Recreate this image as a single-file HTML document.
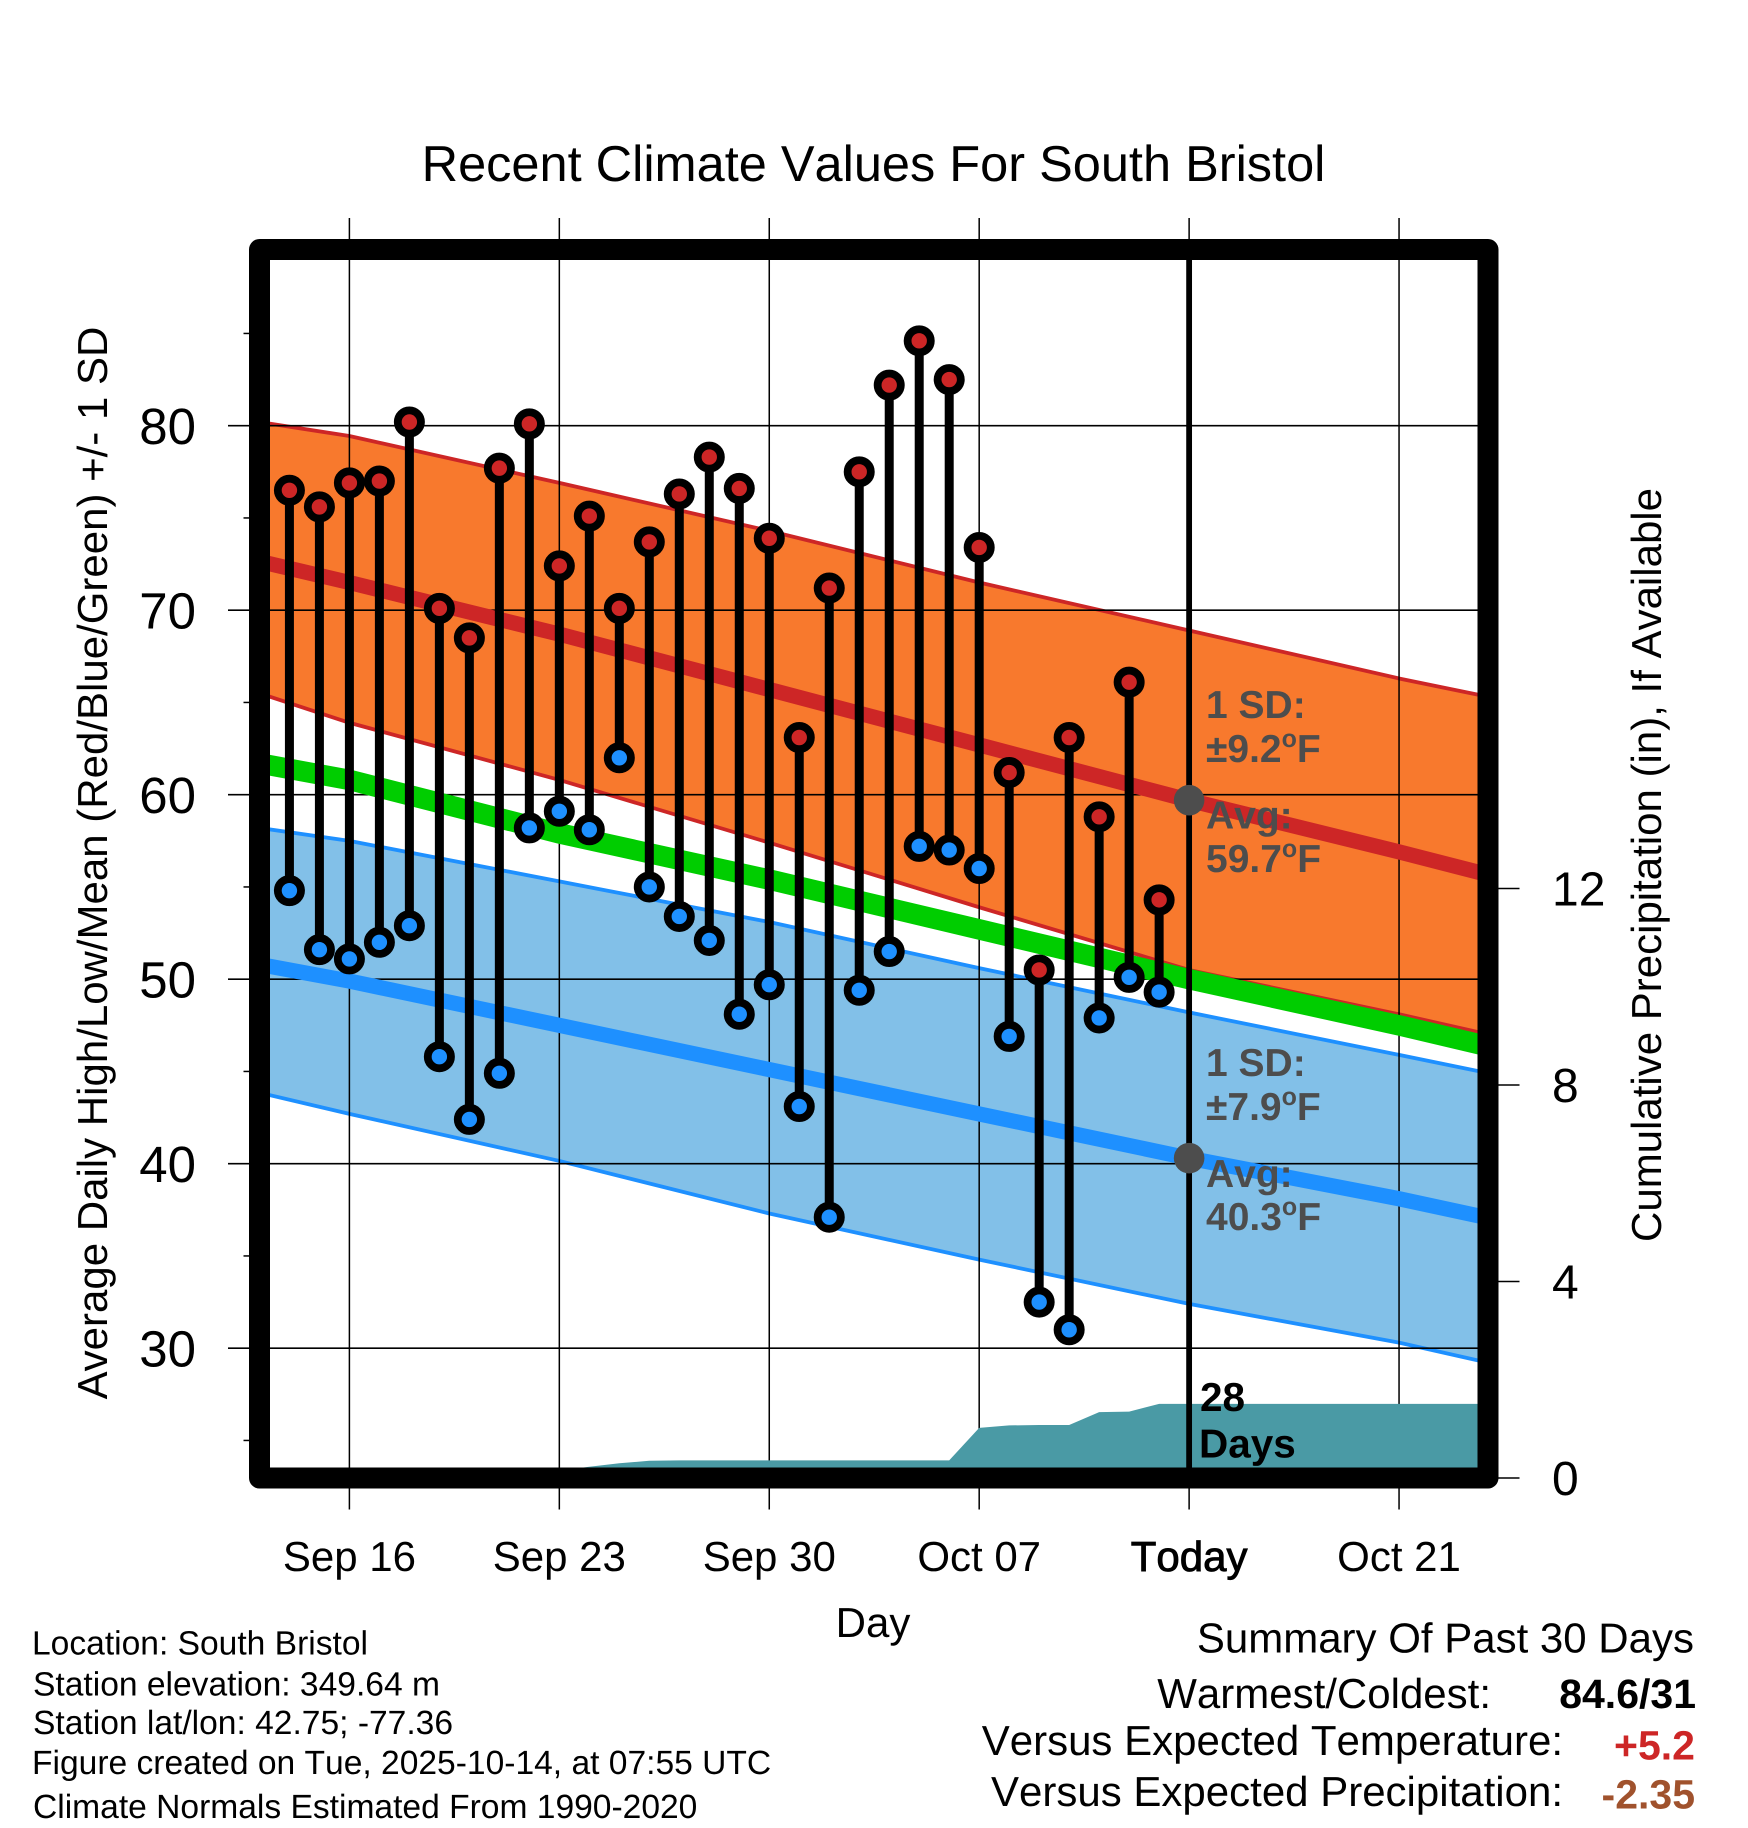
<!DOCTYPE html>
<html>
<head>
<meta charset="utf-8">
<title>Recent Climate Values For South Bristol</title>
<style>
html,body{margin:0;padding:0;background:#fff;}
svg{display:block;}
text{font-family:"Liberation Sans",sans-serif;font-kerning:none;text-rendering:geometricPrecision;}
</style>
</head>
<body>
<svg id="chart" xmlns="http://www.w3.org/2000/svg" width="1748" height="1828" viewBox="0 0 1748 1828">
  <rect width="1748" height="1828" fill="#ffffff"/>
  <g id="plot-layer"></g>
  <text x="873.5" y="181" font-size="50.5" text-anchor="middle">Recent Climate Values For South Bristol</text>
  <text x="873" y="1637" font-size="42" text-anchor="middle">Day</text>
  <text transform="translate(107,863) rotate(-90)" font-size="42" text-anchor="middle">Average Daily High/Low/Mean (Red/Blue/Green) +/- 1 SD</text>
  <text transform="translate(1661,865) rotate(-90)" font-size="42" text-anchor="middle">Cumulative Precipitation (in), If Available</text>

  <g fill="#4d4d4d" font-weight="bold" font-size="39">
    <text x="1206" y="718">1 SD:</text>
    <text x="1206" y="762">±9.2<tspan font-size="25" dy="-15">o</tspan><tspan dy="15">F</tspan></text>
    <text x="1206" y="828.5">Avg:</text>
    <text x="1206" y="872">59.7<tspan font-size="25" dy="-15">o</tspan><tspan dy="15">F</tspan></text>
  </g>
  <g fill="#4d4d4d" font-weight="bold" font-size="39">
    <text x="1206" y="1076">1 SD:</text>
    <text x="1206" y="1120">±7.9<tspan font-size="25" dy="-15">o</tspan><tspan dy="15">F</tspan></text>
    <text x="1206" y="1187">Avg:</text>
    <text x="1206" y="1230">40.3<tspan font-size="25" dy="-15">o</tspan><tspan dy="15">F</tspan></text>
  </g>
  <g font-weight="bold" font-size="40.5" fill="#000">
    <text x="1200" y="1411">28</text>
    <text x="1199" y="1457.5">Days</text>
  </g>

  <g font-size="33.6" fill="#000">
    <text x="32" y="1654.5">Location: South Bristol</text>
    <text x="33" y="1695.5">Station elevation: 349.64 m</text>
    <text x="33" y="1734">Station lat/lon: 42.75; -77.36</text>
    <text x="32" y="1774">Figure created on Tue, 2025-10-14, at 07:55 UTC</text>
    <text x="33" y="1818">Climate Normals Estimated From 1990-2020</text>
  </g>

  <g font-size="42" fill="#000">
    <text x="1694" y="1652.5" text-anchor="end">Summary Of Past 30 Days</text>
    <text x="1491" y="1708" text-anchor="end">Warmest/Coldest:</text>
    <text x="1696" y="1708" text-anchor="end" font-weight="bold" font-size="41">84.6/31</text>
    <text x="1563" y="1755" text-anchor="end">Versus Expected Temperature:</text>
    <text x="1695" y="1759.5" text-anchor="end" font-weight="bold" font-size="41" fill="#cd2626">+5.2</text>
    <text x="1563" y="1806" text-anchor="end">Versus Expected Precipitation:</text>
    <text x="1695" y="1808.5" text-anchor="end" font-weight="bold" font-size="41" fill="#a0522d">-2.35</text>
  </g>
</svg>

<script>
// Observed daily values, Sep 14 through Oct 13
var dayOffsets = [-2,-1,0,1,2,3,4,5,6,7,8,9,10,11,12,13,14,15,16,17,18,19,20,21,22,23,24,25,26,27];
var dailyHighs = [76.5,75.6,76.9,77.0,80.2,70.1,68.5,77.7,80.1,72.4,75.1,70.1,73.7,76.3,78.3,76.6,73.9,63.1,71.2,77.5,82.2,84.6,82.5,73.4,61.2,50.5,63.1,58.8,66.1,54.3];
var dailyLows = [54.8,51.6,51.1,52.0,52.9,45.8,42.4,44.9,58.2,59.1,58.1,62.0,55.0,53.4,52.1,48.1,49.7,43.1,37.1,49.4,51.5,57.2,57.0,56.0,46.9,32.5,31.0,47.9,50.1,49.3];
var dailyPrecip = [0,0,0,0,0,0,0,0,0,0.15,0.23,0.3,0.35,0.36,0.36,0.36,0.36,0.36,0.36,0.36,0.36,0.36,0.36,1.02,1.07,1.08,1.08,1.34,1.35,1.51];

// Climate normals read at the plot edges and weekly
var normalDays = [-3,0,7,14,21,28,35,38];
var highUpper = [80.2,79.44,76.9,74.3,71.5,68.9,66.3,65.3];
var highMean = [72.65,71.5,68.7,65.7,62.7,59.7,56.9,55.65];
var highLower = [65.5,63.9,60.8,57.4,53.9,50.5,48.1,47.0];
var meanNormal = [61.7,60.8,57.9,55.4,52.7,50.0,47.5,46.35];
var lowUpper = [58.2,57.5,55.3,53.1,50.6,48.2,45.9,44.9];
var lowMean = [50.8,49.9,47.5,45.1,42.7,40.3,38.1,37.05];
var lowLower = [43.85,42.7,40.15,37.3,34.8,32.4,30.3,29.2];

// Axis ticks
var xTickDays = [0,7,14,21,28,35];
var xTickLabels = ["Sep 16","Sep 23","Sep 30","Oct 07","Today","Oct 21"];
var yMajorTicks = [30,40,50,60,70,80];
var yMinorTicks = [25,35,45,55,65,75,85];
var precipTicks = [0,4,8,12];
var todayDay = 28;
var todayHigh = 59.7;
var todayLow = 40.3;

function xScale(day) { return 349.4 + day * 29.99; }
function yScale(temp) { return 425.7 + (80 - temp) * 18.45; }
function precipScale(inches) { return 1478 - inches * 49.13; }

var NS = "http://www.w3.org/2000/svg";
var layer = document.getElementById("plot-layer");
var PLOT_L = 270, PLOT_R = 1478, PLOT_T = 260, PLOT_B = 1468;

function make(tag, attrs, parent) {
  var node = document.createElementNS(NS, tag);
  for (var k in attrs) { node.setAttribute(k, attrs[k]); }
  (parent || layer).appendChild(node);
  return node;
}
function pointList(days, values, yFn) {
  return days.map(function (d, i) { return xScale(d).toFixed(2) + "," + yFn(values[i]).toFixed(2); });
}

var i, node;

// Clip for plot interior
var defs = make("defs", {});
var clip = make("clipPath", { id: "plot-clip" }, defs);
make("rect", { x: PLOT_L, y: PLOT_T, width: PLOT_R - PLOT_L, height: PLOT_B - PLOT_T }, clip);

// Normal bands
var highPts = pointList(normalDays, highUpper, yScale);
var highLowPts = pointList(normalDays, highLower, yScale);
node = make("polygon", { points: highPts.concat(highLowPts.slice().reverse()).join(" "), fill: "#f8792d", "clip-path": "url(#plot-clip)" });



var lowPts = pointList(normalDays, lowUpper, yScale);
var lowLowPts = pointList(normalDays, lowLower, yScale);
node = make("polygon", { points: lowPts.concat(lowLowPts.slice().reverse()).join(" "), fill: "#82c0e8", "clip-path": "url(#plot-clip)" });



// Band edges
node = make("polyline", { points: highPts.join(" "), fill: "none", stroke: "#cd2626", "stroke-width": 3.8, "clip-path": "url(#plot-clip)" });


node = make("polyline", { points: highLowPts.join(" "), fill: "none", stroke: "#cd2626", "stroke-width": 3.8, "clip-path": "url(#plot-clip)" });


node = make("polyline", { points: lowPts.join(" "), fill: "none", stroke: "#1e90ff", "stroke-width": 3.8, "clip-path": "url(#plot-clip)" });


node = make("polyline", { points: lowLowPts.join(" "), fill: "none", stroke: "#1e90ff", "stroke-width": 3.8, "clip-path": "url(#plot-clip)" });



// Grid and ticks
for (i = 0; i < xTickDays.length; i++) {
  node = make("line", { x1: xScale(xTickDays[i]), x2: xScale(xTickDays[i]), y1: 218, y2: 1509.5, stroke: "#000", "stroke-width": 1.5 });
  
  
  node = make("text", { x: xScale(xTickDays[i]), y: 1571, "font-size": 42, "text-anchor": "middle", fill: "#000" });
  node.textContent = xTickLabels[i];
  
  
  if (xTickDays[i] === todayDay) {
    node.setAttribute("stroke", "#000");
    node.setAttribute("stroke-width", "0.9");
  }
}
for (i = 0; i < yMajorTicks.length; i++) {
  node = make("line", { x1: 228, x2: PLOT_R, y1: yScale(yMajorTicks[i]), y2: yScale(yMajorTicks[i]), stroke: "#000", "stroke-width": 1.6 });
  
  
  node = make("text", { x: 196, y: yScale(yMajorTicks[i]) + 18.3, "font-size": 51, "text-anchor": "end", fill: "#000" });
  node.textContent = String(yMajorTicks[i]);
  
  
}
for (i = 0; i < yMinorTicks.length; i++) {
  node = make("line", { x1: 243.5, x2: 252, y1: yScale(yMinorTicks[i]), y2: yScale(yMinorTicks[i]), stroke: "#000", "stroke-width": 1.5 });
  
  
}
for (i = 0; i < precipTicks.length; i++) {
  node = make("line", { x1: 1495, x2: 1519.5, y1: precipScale(precipTicks[i]), y2: precipScale(precipTicks[i]), stroke: "#000", "stroke-width": 1.5 });
  
  
  node = make("text", { x: 1552, y: precipScale(precipTicks[i]) + 17, "font-size": 48, "text-anchor": "start", fill: "#000" });
  node.textContent = String(precipTicks[i]);
  
  
}

// Mean lines
node = make("polyline", { points: pointList(normalDays, highMean, yScale).join(" "), fill: "none", stroke: "#cd2626", "stroke-width": 15.2, "clip-path": "url(#plot-clip)" });


node = make("polyline", { points: pointList(normalDays, lowMean, yScale).join(" "), fill: "none", stroke: "#1e90ff", "stroke-width": 15.2, "clip-path": "url(#plot-clip)" });


node = make("polyline", { points: pointList(normalDays, meanNormal, yScale).join(" "), fill: "none", stroke: "#00cd00", "stroke-width": 20.5, "clip-path": "url(#plot-clip)" });



// Cumulative precipitation
var precipPts = [xScale(dayOffsets[0]) + "," + precipScale(0)];
for (i = 0; i < dayOffsets.length; i++) {
  precipPts.push(xScale(dayOffsets[i]) + "," + precipScale(dailyPrecip[i]));
}
precipPts.push(PLOT_R + "," + precipScale(dailyPrecip[dailyPrecip.length - 1]));
precipPts.push(PLOT_R + "," + precipScale(0));
node = make("polygon", { points: precipPts.join(" "), fill: "#4a9aa5" });



// Stems
for (i = 0; i < dayOffsets.length; i++) {
  node = make("line", { x1: xScale(dayOffsets[i]), x2: xScale(dayOffsets[i]), y1: yScale(dailyHighs[i]), y2: yScale(dailyLows[i]), stroke: "#000", "stroke-width": 9 });
  
  
}
// Dots
for (i = 0; i < dayOffsets.length; i++) {
  node = make("circle", { cx: xScale(dayOffsets[i]), cy: yScale(dailyHighs[i]), r: 11.6, fill: "#cd2626", stroke: "#000", "stroke-width": 7.8 });
  
  
  node = make("circle", { cx: xScale(dayOffsets[i]), cy: yScale(dailyLows[i]), r: 11.6, fill: "#1e90ff", stroke: "#000", "stroke-width": 7.8 });
  
  
}

// Today marker
node = make("line", { x1: xScale(todayDay), x2: xScale(todayDay), y1: PLOT_T, y2: PLOT_B, stroke: "#000", "stroke-width": 5.8 });


node = make("circle", { cx: xScale(todayDay), cy: yScale(todayHigh), r: 15.3, fill: "#4d4d4d" });


node = make("circle", { cx: xScale(todayDay), cy: yScale(todayLow), r: 15.3, fill: "#4d4d4d" });



// Plot frame: covers anything that overruns the plot interior
node = make("rect", {
  x: 259.5, y: 249.5, width: 1228.5, height: 1228.5,
  fill: "none", stroke: "#000", "stroke-width": 21, "stroke-linejoin": "round"
});


</script>
</body>
</html>
